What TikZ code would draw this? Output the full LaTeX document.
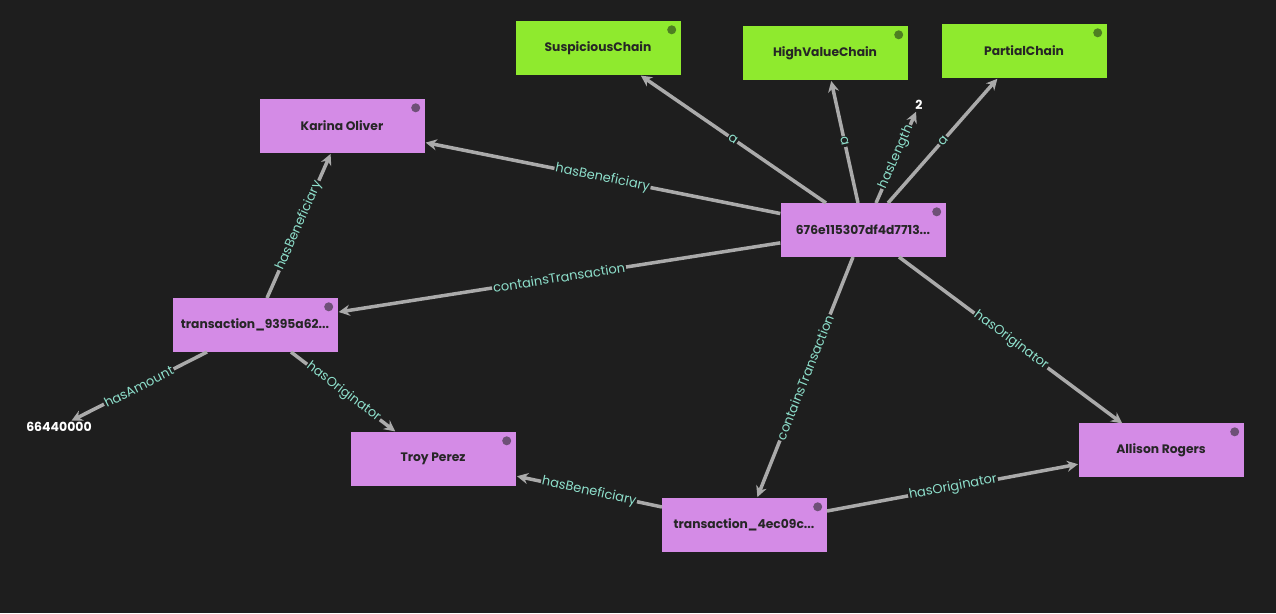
\documentclass[tikz,border=0pt]{standalone}
\usepackage{fontspec}
\setmainfont{Poppins}
\usetikzlibrary{arrows.meta}
\definecolor{bg}{HTML}{1E1E1E}
\definecolor{pnode}{HTML}{D48BE6}
\definecolor{gnode}{HTML}{8FEA2E}
\definecolor{pdot}{HTML}{6E5077}
\definecolor{gdot}{HTML}{4E7F22}
\definecolor{edgec}{HTML}{AAAAAA}
\definecolor{labc}{HTML}{8EE0CC}
\tikzset{
 ent/.style={draw=none,fill=pnode,minimum width=165pt,minimum height=54pt,inner sep=0pt,font=\fontsize{12.3}{15}\selectfont\bfseries,text=black!85},
 cls/.style={ent,fill=gnode},
 lit/.style={font=\fontsize{12.5}{15}\selectfont\bfseries,text=white,inner sep=1pt},
 rel/.style={draw=edgec,line width=3.5pt,-{Stealth[length=11pt,width=11pt]},shorten >=1pt},
 lab/.style={midway,sloped,fill=bg,inner sep=1pt,text=labc,font=\fontsize{13}{14}\selectfont},
}
\newcommand{\dotp}[2]{\fill[#2] ([xshift=-9pt,yshift=-9pt]#1.north east) circle (4.5pt);}
\begin{document}
\begin{tikzpicture}[x=1pt,y=-1pt]
\fill[bg] (0,0) rectangle (1276,613);
\useasboundingbox (0,0) rectangle (1276,613);
\node[cls] (sc) at (598,48) {SuspiciousChain};
\node[cls] (hv) at (825,53) {HighValueChain};
\node[cls] (pc) at (1024,51) {PartialChain};
\node[ent] (ko) at (342,126) {Karina Oliver};
\node[ent] (ch) at (863,230) {676e115307df4d7713...};
\node[ent] (t1) at (255,325) {transaction\_9395a62...};
\node[ent] (tp) at (433,459) {Troy Perez};
\node[ent] (ar) at (1161,450) {Allison Rogers};
\node[ent] (t2) at (744,525) {transaction\_4ec09c...};
\node[lit] (two) at (919,105) {2};
\node[lit] (amt) at (59,427) {66440000};
\foreach \n in {ko,ch,t1,tp,ar,t2} {\dotp{\n}{pdot}}
\foreach \n in {sc,hv,pc} {\dotp{\n}{gdot}}
\coordinate (chA) at (826,203);
\coordinate (chB) at (858,203);
\coordinate (chC) at (876,203);
\coordinate (chD) at (888,203);
\coordinate (scE) at (640,75);
\coordinate (hvE) at (831,80);
\coordinate (pcE) at (998,78);
\draw[rel] (chA) -- (scE) node[lab]{a};
\draw[rel] (chB) -- (hvE) node[lab]{a};
\draw[rel] (chC) -- (two) node[lab]{hasLength};
\draw[rel] (chD) -- (pcE) node[lab]{a};
\draw[rel] (ch) -- (ko) node[lab]{hasBeneficiary};
\draw[rel] (ch) -- (t1) node[lab]{containsTransaction};
\draw[rel] (853,257) -- (757,498) node[lab]{containsTransaction};
\draw[rel] (899,257) -- (1123,424) node[lab]{hasOriginator};
\draw[rel] (267,298) -- (331,153) node[lab]{hasBeneficiary};
\draw[rel] (207,352) -- (amt) node[lab]{hasAmount};
\draw[rel] (291,352) -- (396,432) node[lab]{hasOriginator};
\draw[rel] (662,507) -- (516,476) node[lab]{hasBeneficiary};
\draw[rel] (827,511) -- (1079,464) node[lab]{hasOriginator};
\end{tikzpicture}
\end{document}
